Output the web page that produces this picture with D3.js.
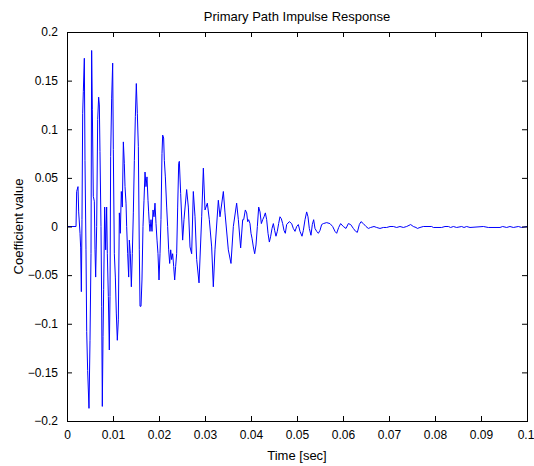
<!DOCTYPE html>
<html>
<head>
<meta charset="utf-8">
<script src="https://cdn.jsdelivr.net/npm/d3@7"></script>
<style>
	html, body { margin: 0; padding: 0; background: #fff; }
	svg text { font-family: "Liberation Sans", Arial, Helvetica, sans-serif; fill: #000; }
</style>
</head>
<body>
<div id="chart"></div>
<script>

// Sample times (ms):
var timeMs = [
	0, 1.96, 2.10, 2.39, 2.54, 2.83, 2.97, 3.12, 3.26, 3.41, 3.55, 3.77, 3.91, 4.13, 4.28, 4.49, 4.78, 5.00, 5.22, 5.36,
	5.51, 5.72, 5.94, 6.09, 6.23, 6.45, 6.67, 6.88, 7.03, 7.17, 7.39, 7.54, 7.68, 7.83, 7.97, 8.19, 8.41, 8.62, 8.77, 8.99,
	9.20, 9.35, 9.49, 9.71, 9.93, 10.07, 10.29, 10.51, 10.72, 10.94, 11.16, 11.38, 11.59, 11.81, 12.03, 12.25, 12.46, 12.61, 12.83, 12.97,
	13.19, 13.41, 13.55, 13.77, 13.99, 14.20, 14.42, 14.64, 14.86, 15.07, 15.29, 15.51, 15.72, 15.87, 16.09, 16.30, 16.52, 16.74, 16.96, 17.17,
	17.39, 17.61, 17.75, 17.90, 18.04, 18.26, 18.48, 18.70, 18.91, 19.13, 19.35, 19.57, 19.78, 20.00, 20.22, 20.43, 20.65, 20.80, 21.01, 21.16,
	21.38, 21.67, 21.88, 22.10, 22.32, 22.54, 22.75, 22.97, 23.19, 23.41, 23.62, 23.84, 24.06, 24.28, 24.42, 24.71, 25.14, 25.43, 26.01, 26.38,
	26.74, 27.10, 27.46, 27.83, 28.19, 28.70, 29.28, 29.64, 30.00, 30.51, 30.94, 31.45, 31.81, 32.17, 32.90, 33.26, 33.99, 34.35, 35.07, 35.65,
	36.16, 36.88, 37.25, 37.75, 38.19, 38.41, 38.77, 39.06, 39.28, 39.49, 39.78, 40.00, 40.22, 40.51, 40.80, 41.09, 41.38, 41.67, 41.96, 42.25,
	42.54, 42.83, 43.12, 43.41, 43.70, 43.99, 44.28, 44.57, 44.86, 45.14, 45.43, 45.72, 46.01, 46.30, 46.59, 46.88, 47.17, 47.46, 47.75, 48.33,
	48.84, 49.20, 49.57, 49.93, 50.29, 50.65, 51.09, 51.38, 51.74, 52.10, 52.39, 52.68, 53.04, 53.33, 53.62, 53.91, 54.28, 54.64, 55.00, 55.36,
	55.72, 56.45, 57.17, 57.75, 58.26, 58.62, 59.06, 59.49, 60.07, 60.65, 61.16, 61.67, 62.25, 62.75, 63.12, 63.55, 63.91, 64.42, 65.00, 65.51,
	66.01, 66.74, 67.32, 68.04, 68.77, 69.49, 70.22, 70.94, 71.67, 72.39, 73.12, 73.84, 74.71, 75.29, 75.87, 76.16, 76.74, 77.46, 79.28, 79.64,
	81.45, 82.17, 82.90, 83.41, 83.99, 84.71, 85.80, 86.30, 86.88, 87.61, 90.51, 91.59, 94.13, 94.71, 95.58, 96.30, 97.03, 98.12, 98.84, 100
];

// Coefficient values at those times:
var coef = [
	0, 0, 0.036, 0.041, 0.015, -0.007, -0.022, -0.067, 0.007, 0.116, 0.139, 0.173, 0.068, -0.024, -0.108, -0.148, -0.187, -0.117, -0.028, 0.181,
	0.120, 0.031, 0.026, -0.024, -0.052, 0.0, 0.110, 0.133, 0.125, 0.077, 0.0, -0.082, -0.185, -0.113, -0.065, 0.020, -0.024, 0.020, -0.028, -0.072,
	-0.127, -0.072, 0.072, 0.132, 0.168, 0.079, -0.028, -0.052, -0.089, -0.117, -0.096, 0.014, -0.007, 0.036, 0.020, 0.087, 0.065, 0.041, 0.024, 0.0,
	-0.028, -0.052, -0.014, -0.028, -0.062, -0.028, 0.014, 0.068, 0.113, 0.147, 0.116, 0.082, -0.024, -0.082, -0.082, -0.055, 0.0, 0.027, 0.056, 0.041,
	0.051, 0.027, 0.015, 0.003, -0.005, 0.007, -0.005, 0.017, 0.010, 0.024, 0.003, -0.014, -0.028, -0.055, -0.028, 0.007, 0.075, 0.094, 0.091, 0.068,
	0.051, 0.020, 0.0, -0.024, -0.038, -0.024, -0.034, -0.028, -0.041, -0.055, -0.041, -0.028, 0.020, 0.065, 0.067, 0.034, -0.014, 0.007, 0.038, 0.020,
	-0.021, -0.028, 0.036, 0.010, -0.034, -0.058, 0.010, 0.060, 0.017, 0.024, 0.007, -0.021, -0.062, -0.024, 0.027, 0.010, 0.036, 0.014, -0.024, -0.038,
	0.0, 0.024, 0.007, -0.022, 0.007, 0.007, 0.017, 0.014, 0.005, 0.007, 0.003, -0.007, -0.012, -0.021, -0.028, -0.019, 0.0, 0.020, 0.015, 0.003,
	0.007, 0.010, 0.014, 0.007, -0.007, -0.016, -0.010, -0.002, 0.003, -0.004, -0.010, -0.005, 0.003, 0.010, 0.008, 0.003, -0.004, -0.007, 0.002, 0.005,
	0.003, -0.002, -0.005, 0.0, 0.002, -0.005, -0.010, -0.004, 0.007, 0.015, 0.010, -0.002, -0.009, 0.002, 0.007, -0.002, -0.005, -0.007, -0.004, 0.002,
	0.003, 0.004, 0.003, 0.0, -0.005, -0.007, -0.001, 0.003, 0.0, -0.002, 0.003, 0.002, -0.002, -0.005, -0.006, 0.002, 0.005, 0.003, 0.0, -0.002,
	-0.001, 0.0, -0.001, -0.002, -0.001, -0.001, 0.0, 0.0, -0.001, 0.0, -0.001, 0.0, 0.002, 0.0, -0.001, -0.002, -0.001, 0.0, 0.0, -0.001,
	-0.001, 0.0, 0.0, -0.001, 0.0, -0.001, 0.0, -0.001, 0.0, -0.001, 0.0, -0.001, -0.001, 0.0, -0.001, 0.0, -0.001, 0.0, -0.001, 0.0
];

// Tick values:
var xTicks = [0, 0.01, 0.02, 0.03, 0.04, 0.05, 0.06, 0.07, 0.08, 0.09, 0.1],
	yTicks = [-0.2, -0.15, -0.1, -0.05, 0, 0.05, 0.1, 0.15, 0.2];

var width = 534,
	height = 466,
	margin = [32, 7, 45, 67],	// top, right, bottom, left
	graphW = width - margin[1] - margin[3],
	graphH = height - margin[0] - margin[2];

var data = timeMs.map(function(t, i) { return { t: t / 1000, v: coef[i] }; });

var xScale = d3.scaleLinear().domain([0, 0.1]).range([0, graphW]),
	yScale = d3.scaleLinear().domain([-0.2, 0.2]).range([graphH, 0]);

// Create the canvas:
var svg = d3.select('#chart').append('svg')
	.attr('width', width)
	.attr('height', height);

var chart = svg.append('g')
	.attr('transform', 'translate(' + margin[3] + ',' + margin[0] + ')');

// Signal line:
var line = d3.line()
	.x(function(d) { return xScale(d.t); })
	.y(function(d) { return yScale(d.v); });

chart.append('path')
	.datum(data)
	.attr('fill', 'none')
	.attr('stroke', '#0000ff')
	.attr('stroke-width', 1)
	.attr('d', line);

// Axes (ticks point inward, MATLAB style):
var fmt = function(d) { return d3.format('~g')(+d.toFixed(3)); };

var xBottom = d3.axisBottom(xScale).tickValues(xTicks).tickSizeInner(-5).tickSizeOuter(0).tickPadding(9).tickFormat(fmt),
	xTop = d3.axisTop(xScale).tickValues(xTicks).tickSizeInner(-5).tickSizeOuter(0).tickFormat(''),
	yLeft = d3.axisLeft(yScale).tickValues(yTicks).tickSizeInner(-5).tickSizeOuter(0).tickPadding(9).tickFormat(fmt),
	yRight = d3.axisRight(yScale).tickValues(yTicks).tickSizeInner(-5).tickSizeOuter(0).tickFormat('');

var gx = chart.append('g').attr('transform', 'translate(0,' + graphH + ')').call(xBottom);
chart.append('g').call(xTop);
chart.append('g').call(yLeft);
chart.append('g').attr('transform', 'translate(' + graphW + ',0)').call(yRight);

chart.selectAll('.domain').remove();
chart.selectAll('.tick line').attr('stroke', '#000');
chart.selectAll('.tick text').attr('font-size', 12).attr('font-family', null);

// Keep the last x label inside the window:
gx.selectAll('.tick text').filter(function(d) { return d === 0.1; })
	.attr('dx', -1.5);

// Box:
chart.append('rect')
	.attr('x', 0.5)
	.attr('y', 0.5)
	.attr('width', graphW)
	.attr('height', graphH)
	.attr('fill', 'none')
	.attr('stroke', '#000');

// Labels:
svg.append('text')
	.attr('x', margin[3] + graphW / 2)
	.attr('y', 21)
	.attr('text-anchor', 'middle')
	.attr('font-size', 13)
	.text('Primary Path Impulse Response');

svg.append('text')
	.attr('x', margin[3] + graphW / 2)
	.attr('y', 460)
	.attr('text-anchor', 'middle')
	.attr('font-size', 13)
	.text('Time [sec]');

svg.append('text')
	.attr('transform', 'translate(23,' + (margin[0] + graphH / 2) + ') rotate(-90)')
	.attr('text-anchor', 'middle')
	.attr('font-size', 13)
	.text('Coefficient value');

</script>
</body>
</html>
